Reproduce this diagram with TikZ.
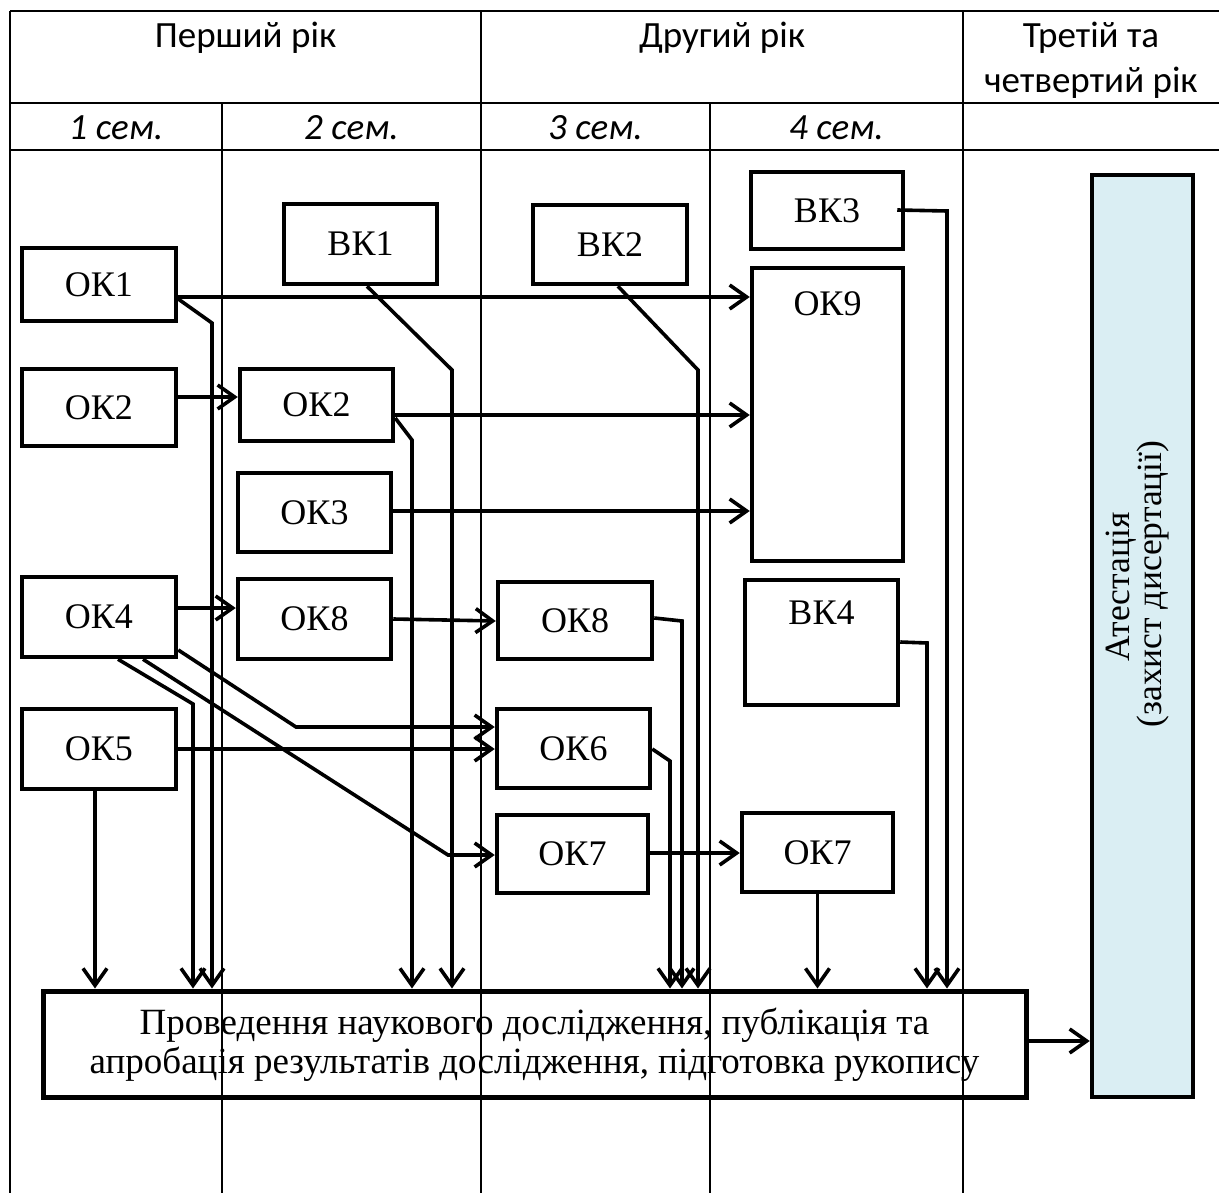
\documentclass[tikz,border=0pt]{standalone}
\usepackage{fontspec}
\setmainfont{Liberation Serif}
\newfontfamily\hdrfont{Carlito}
\usetikzlibrary{arrows.meta,calc}
\definecolor{atblue}{HTML}{DAEEF3}
\begin{document}
\begin{tikzpicture}[x=1pt,y=-1pt,
  gridline/.style={line width=2.4pt},
  box/.style={draw, line width=4.5pt, inner sep=0pt, font=\fontsize{36}{38}\selectfont},
  lbl/.style={inner sep=0pt, font=\fontsize{36}{38}\selectfont},
  con/.style={line width=3.6pt},
  arr/.style={con, -{Straight Barb[length=17pt,width=24pt,line width=3.6pt]}},
  hd/.style={font=\hdrfont\fontsize{37}{42}\selectfont, anchor=base, inner sep=0pt},
  sem/.style={font=\hdrfont\itshape\fontsize{37}{42}\selectfont, anchor=base, inner sep=0pt},
  big/.style={font=\fontsize{37}{38}\selectfont, anchor=base, inner sep=0pt},
]
\useasboundingbox (0,0) rectangle (1219,1193);

% table grid
\draw[gridline] (10,11) -- (1219,11);
\draw[gridline] (10,103) -- (1219,103);
\draw[gridline] (10,150) -- (1219,150);
\draw[gridline] (10,11) -- (10,1193);
\draw[gridline] (481,11) -- (481,1193);
\draw[gridline] (963,11) -- (963,1193);
\draw[gridline] (222,103) -- (222,1193);
\draw[gridline] (710,103) -- (710,1193);

% header texts
\node[hd] (h1) at (245.5,48) {Перший рік};
\node[hd] (h2) at (722,48) {Другий рік};
\node[hd] (h3) at (1091,48) {Третій та};
\node[hd] (h4) at (1091,93) {четвертий рік};
\node[sem] (s1) at (116,140) {1 сем.};
\node[sem] (s2) at (351.5,140) {2 сем.};
\node[sem] (s3) at (595.5,140) {3 сем.};
\node[sem] (s4) at (836.5,140) {4 сем.};

% boxes
\node[box, minimum width=154pt, minimum height=73pt] (ok1) at (99,284.5) {ОК1};
\node[box, minimum width=153pt, minimum height=80pt] (vk1) at (360.5,244) {ВК1};
\node[box, minimum width=154pt, minimum height=79pt] (vk2) at (610,244.5) {ВК2};
\node[box, minimum width=152pt, minimum height=77pt] (vk3) at (827,210.5) {ВК3};
\node[box, minimum width=151pt, minimum height=293pt] (ok9) at (827.5,414.5) {};
\node[lbl] (ok9t) at (827.5,304) {ОК9};
\node[box, minimum width=154pt, minimum height=77pt] (ok2a) at (99,407.5) {ОК2};
\node[box, minimum width=153pt, minimum height=72pt] (ok2b) at (316.5,405) {ОК2};
\node[box, minimum width=153pt, minimum height=79pt] (ok3) at (314.5,512.5) {ОК3};
\node[box, minimum width=154pt, minimum height=80pt] (ok4) at (99,617) {ОК4};
\node[box, minimum width=153pt, minimum height=80pt] (ok8a) at (314.5,619) {ОК8};
\node[box, minimum width=154pt, minimum height=77pt] (ok8b) at (575,620.5) {ОК8};
\node[box, minimum width=153pt, minimum height=125pt] (vk4) at (821.5,642.5) {};
\node[lbl] (vk4t) at (821.5,613) {ВК4};
\node[box, minimum width=154pt, minimum height=80pt] (ok5) at (99,749) {ОК5};
\node[box, minimum width=153pt, minimum height=79pt] (ok6) at (573.5,748.5) {ОК6};
\node[box, minimum width=151pt, minimum height=78pt] (ok7a) at (572.5,854) {ОК7};
\node[box, minimum width=151pt, minimum height=79pt] (ok7b) at (817.5,852.5) {ОК7};
\node[box, line width=5pt, minimum width=983pt, minimum height=106pt] (big) at (534.5,1044) {};
\node[big] (bt1) at (534.5,1034) {Проведення наукового дослідження, публікація та};
\node[big] (bt2) at (534.5,1073) {апробація результатів дослідження, підготовка рукопису};
\node[box, fill=atblue, line width=4.5pt, minimum width=101pt, minimum height=922pt] (ates) at (1142.5,636) {};
\node[big, rotate=90, font=\fontsize{35.5}{36}\selectfont] (at1) at (1129,587) {Атестація};
\node[big, rotate=90, font=\fontsize{35.5}{36}\selectfont] (at2) at (1161,584) {(захист дисертації)};

% bend points
\coordinate (c1) at (212,323);
\coordinate (c2) at (452,370);
\coordinate (c3) at (412,440);
\coordinate (c4) at (698,370);
\coordinate (c5) at (947,211);
\coordinate (c6) at (682,621);
\coordinate (c7) at (296,727);
\coordinate (c8) at (448,855);
\coordinate (c9) at (193,704);
\coordinate (c10) at (670,761);
\coordinate (c11) at (927,643);

% connectors
\draw[arr] (ok1.east |- 0,297) -- (ok9.west |- 0,297);
\draw[arr] (ok1.east |- 0,299) -- (c1) -- (c1 |- big.north);
\draw[arr] (vk1.south -| 367,0) -- (c2) -- (c2 |- big.north);
\draw[arr] (ok2a.east |- 0,397) -- (ok2b.west |- 0,397);
\draw[arr] (ok2b.east |- 0,415) -- (ok9.west |- 0,415);
\draw[arr] (ok2b.east |- 0,418) -- (c3) -- (c3 |- big.north);
\draw[arr] (ok3.east |- 0,511) -- (ok9.west |- 0,511);
\draw[arr] (vk2.south -| 618,0) -- (c4) -- (c4 |- big.north);
\draw[arr] ($(vk3.east |- 0,210)+(-8,0)$) -- (c5) -- (c5 |- big.north);
\draw[arr] (ok4.east |- 0,608) -- (ok8a.west |- 0,608);
\draw[arr] (ok8a.east |- 0,619) -- (ok8b.west |- 0,621);
\draw[arr] (ok8b.east |- 0,618) -- (c6) -- (c6 |- big.north);
\draw[arr] (ok4.east |- 0,650) -- (c7) -- (ok6.west |- c7);
\draw[arr] (ok4.south -| 143,0) -- (c8) -- (ok7a.west |- c8);
\draw[arr] (ok4.south -| 118,0) -- (c9) -- (c9 |- big.north);
\draw[arr] (ok5.east |- 0,749) -- (ok6.west |- 0,749);
\draw[arr] (ok5.south -| 95,0) -- (big.north -| 95,0);
\draw[arr] (ok6.east |- 0,749) -- (c10) -- (c10 |- big.north);
\draw[arr] (ok7a.east |- 0,853) -- (ok7b.west |- 0,853);
\draw[arr] (ok7b.south) -- (ok7b.south |- big.north);
\draw[arr] (vk4.east |- 0,642) -- (c11) -- (c11 |- big.north);
\draw[arr] (big.east |- 0,1041) -- (ates.west |- 0,1041);
\end{tikzpicture}
\end{document}
